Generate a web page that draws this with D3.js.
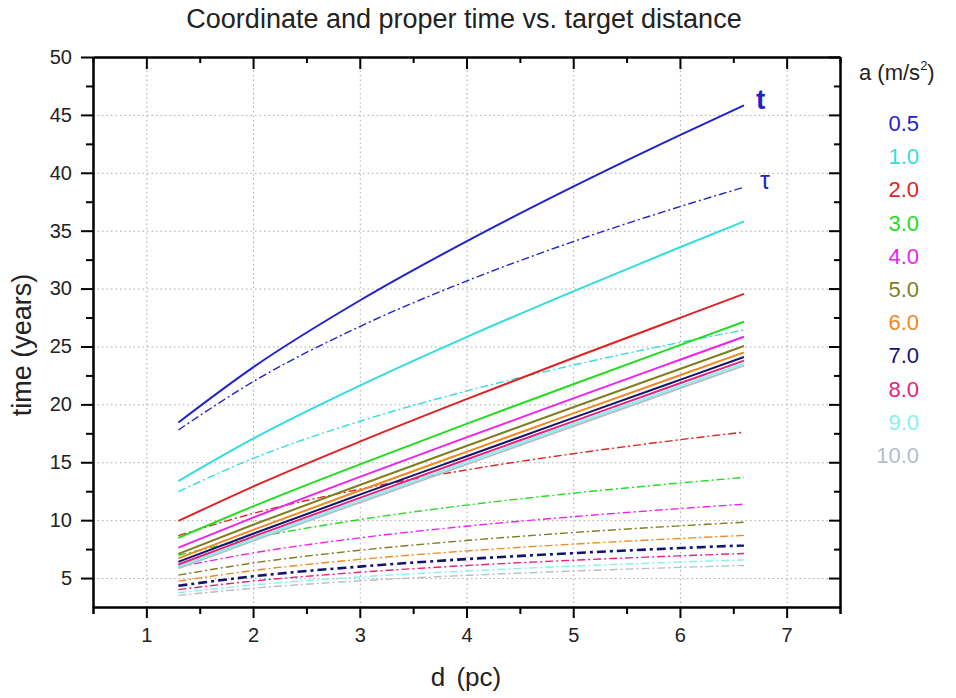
<!DOCTYPE html>
<html>
<head>
<meta charset="utf-8">
<script src="https://cdn.jsdelivr.net/npm/d3@7"></script>
<style>
  body { margin: 0; background: #fff; }
  text { font-family: "Liberation Sans", Arial, sans-serif; }
</style>
</head>
<body>
<div id="div_chart"></div>
<script>
// Target distances (pc) where the curves are sampled
var distances = [1.3, 2, 3, 4, 5, 6, 6.6];

// Accelerations (m/s^2) and their colours
var accels = ["0.5", "1.0", "2.0", "3.0", "4.0", "5.0", "6.0", "7.0", "8.0", "9.0", "10.0"];
var colors = ["#2222cc", "#33dddd", "#e02222", "#22dd22", "#ee22ee", "#7f7f22",
              "#f08822", "#14146e", "#e8227a", "#88f0f0", "#b4bec6"];

// Coordinate time t (years), one row per acceleration
var coordTime = [
    [18.44, 23.20, 28.97, 34.08, 38.80, 43.25, 45.82],
    [13.38, 17.04, 21.62, 25.81, 29.76, 33.57, 35.80],
    [9.93, 12.90, 16.78, 20.45, 24.00, 27.47, 29.54],
    [8.47, 11.19, 14.82, 18.32, 21.74, 25.12, 27.13],
    [7.63, 10.22, 13.74, 17.15, 20.52, 23.85, 25.84],
    [7.09, 9.60, 13.04, 16.41, 19.75, 23.06, 25.04],
    [6.70, 9.16, 12.56, 15.90, 19.22, 22.52, 24.49],
    [6.40, 8.83, 12.20, 15.52, 18.83, 22.12, 24.09],
    [6.17, 8.58, 11.92, 15.24, 18.53, 21.82, 23.78],
    [5.99, 8.37, 11.71, 15.01, 18.30, 21.58, 23.54],
    [5.84, 8.21, 11.53, 14.82, 18.11, 21.39, 23.35]
];

// Proper time tau (years), one row per acceleration
var properTime = [
    [17.79, 21.96, 26.72, 30.65, 34.06, 37.08, 38.75],
    [12.47, 15.33, 18.54, 21.15, 23.39, 25.35, 26.42],
    [8.67, 10.58, 12.67, 14.34, 15.74, 16.95, 17.60],
    [6.97, 8.45, 10.05, 11.30, 12.33, 13.21, 13.69],
    [5.95, 7.17, 8.47, 9.48, 10.30, 11.00, 11.38],
    [5.25, 6.30, 7.40, 8.24, 8.93, 9.51, 9.82],
    [4.73, 5.65, 6.61, 7.34, 7.93, 8.42, 8.69],
    [4.33, 5.15, 5.99, 6.64, 7.15, 7.59, 7.82],
    [4.00, 4.74, 5.50, 6.08, 6.54, 6.92, 7.12],
    [3.73, 4.40, 5.10, 5.61, 6.03, 6.38, 6.56],
    [3.50, 4.12, 4.76, 5.23, 5.61, 5.92, 6.09]
];

var xTicks = [1, 2, 3, 4, 5, 6, 7];
var yTicks = [5, 10, 15, 20, 25, 30, 35, 40, 45, 50];

// Set the dimensions of the svg
var margin = {top: 57, right: 116, bottom: 91, left: 93};
var svgWidth = 956;
var svgHeight = 698;
var graphWidth = svgWidth - margin.left - margin.right;
var graphHeight = svgHeight - margin.top - margin.bottom;

var root = d3.select("#div_chart")
    .append("svg")
        .attr("width", svgWidth)
        .attr("height", svgHeight);
var svg = root.append("g")
    .attr("transform", "translate(" + margin.left + "," + margin.top + ")");

var x = d3.scaleLinear().domain([0.5, 7.5]).range([0, graphWidth]);
var y = d3.scaleLinear().domain([2.5, 50]).range([graphHeight, 0]);

// Grid lines
svg.append("g")
    .attr("class", "grid")
    .call(d3.axisBottom(x).tickValues(xTicks).tickSize(graphHeight).tickFormat(""))
    .call(g => g.select(".domain").remove())
    .selectAll("line")
        .attr("stroke", "#aaa")
        .attr("stroke-dasharray", "1.5,3");
svg.append("g")
    .attr("class", "grid")
    .call(d3.axisLeft(y).tickValues(yTicks).tickSize(-graphWidth).tickFormat(""))
    .call(g => g.select(".domain").remove())
    .selectAll("line")
        .attr("stroke", "#aaa")
        .attr("stroke-dasharray", "1.5,3");

// Curves
var line = d3.line()
    .x((d, i) => x(distances[i]))
    .y(d => y(d))
    .curve(d3.curveMonotoneX);

svg.selectAll(".tau")
    .data(properTime)
    .enter()
    .append("path")
        .attr("class", "tau")
        .attr("d", line)
        .attr("fill", "none")
        .attr("stroke", (d, i) => colors[i])
        .attr("stroke-width", (d, i) => i === 7 ? 2.6 : 1.4)
        .attr("stroke-dasharray", (d, i) => i === 7 ? "9,4,3,4" : "8,3,2,3");

// draw t curves from the lowest up so the high ones sit on top
var tOrder = d3.range(coordTime.length).reverse();
svg.selectAll(".t")
    .data(tOrder)
    .enter()
    .append("path")
        .attr("class", "t")
        .attr("d", i => line(coordTime[i]))
        .attr("fill", "none")
        .attr("stroke", i => colors[i])
        .attr("stroke-width", 2);

// Axes
function styleAxis(g) {
    g.select(".domain").attr("stroke", "#000").attr("stroke-width", 2);
    g.selectAll("line").attr("stroke", "#000").attr("stroke-width", 2);
    g.selectAll("text")
        .attr("fill", "#222")
        .style("font-size", "20px");
}

var xMinor = d3.range(0.5, 7.6, 1);
var yMinor = d3.range(7.5, 50, 5);

// bottom
svg.append("g")
    .attr("transform", "translate(0," + graphHeight + ")")
    .call(d3.axisBottom(x).tickValues(xTicks).tickSize(11).tickSizeOuter(0).tickPadding(10).tickFormat(d3.format("d")))
    .call(styleAxis);
svg.append("g")
    .attr("transform", "translate(0," + graphHeight + ")")
    .call(d3.axisBottom(x).tickValues(xMinor).tickSize(7).tickFormat(""))
    .call(styleAxis);
// top
svg.append("g")
    .call(d3.axisTop(x).tickValues(xTicks).tickSize(-12).tickSizeOuter(0).tickFormat(""))
    .call(styleAxis);
svg.append("g")
    .call(d3.axisTop(x).tickValues(xMinor).tickSize(-6).tickSizeOuter(0).tickFormat(""))
    .call(styleAxis);
// left
svg.append("g")
    .call(d3.axisLeft(y).tickValues(yTicks).tickSize(12).tickSizeOuter(0).tickPadding(9))
    .call(styleAxis);
svg.append("g")
    .call(d3.axisLeft(y).tickValues(yMinor).tickSize(7).tickSizeOuter(0).tickFormat(""))
    .call(styleAxis);
// right
svg.append("g")
    .attr("transform", "translate(" + graphWidth + ",0)")
    .call(d3.axisRight(y).tickValues(yTicks).tickSize(-11).tickSizeOuter(0).tickFormat(""))
    .call(styleAxis);
svg.append("g")
    .attr("transform", "translate(" + graphWidth + ",0)")
    .call(d3.axisRight(y).tickValues(yMinor).tickSize(-6).tickSizeOuter(0).tickFormat(""))
    .call(styleAxis);

// Curve labels
svg.append("text")
    .attr("x", x(6.6) + 12)
    .attr("y", y(coordTime[0][6]) + 4)
    .attr("fill", colors[0])
    .style("font-size", "28px")
    .style("font-weight", "bold")
    .text("t");
svg.append("text")
    .attr("x", x(6.6) + 16)
    .attr("y", y(properTime[0][6]) + 2)
    .attr("fill", colors[0])
    .style("font-size", "25px")
    .text("τ");

// Titles
root.append("text")
    .attr("x", 464)
    .attr("y", 28)
    .attr("text-anchor", "middle")
    .attr("fill", "#222")
    .style("font-size", "27px")
    .text("Coordinate and proper time vs. target distance");
root.append("text")
    .attr("x", 466)
    .attr("y", 686)
    .attr("text-anchor", "middle")
    .attr("fill", "#222")
    .style("font-size", "26px")
    .style("word-spacing", "4px")
    .text("d (pc)");
root.append("text")
    .attr("transform", "translate(31,345)rotate(-90)")
    .attr("text-anchor", "middle")
    .attr("fill", "#222")
    .style("font-size", "27px")
    .text("time (years)");

// Legend
var legTitle = root.append("text")
    .attr("x", 859)
    .attr("y", 80)
    .attr("fill", "#222")
    .style("font-size", "22px");
legTitle.append("tspan").text("a (m/s");
legTitle.append("tspan").attr("dy", -10).style("font-size", "13px").text("2");
legTitle.append("tspan").attr("dy", 10).text(")");

root.selectAll(".leg")
    .data(accels)
    .enter()
    .append("text")
        .attr("class", "leg")
        .attr("x", 919)
        .attr("y", (d, i) => 131 + i * 33.2)
        .attr("text-anchor", "end")
        .attr("fill", (d, i) => colors[i])
        .style("font-size", "22px")
        .text(d => d);
</script>
</body>
</html>
